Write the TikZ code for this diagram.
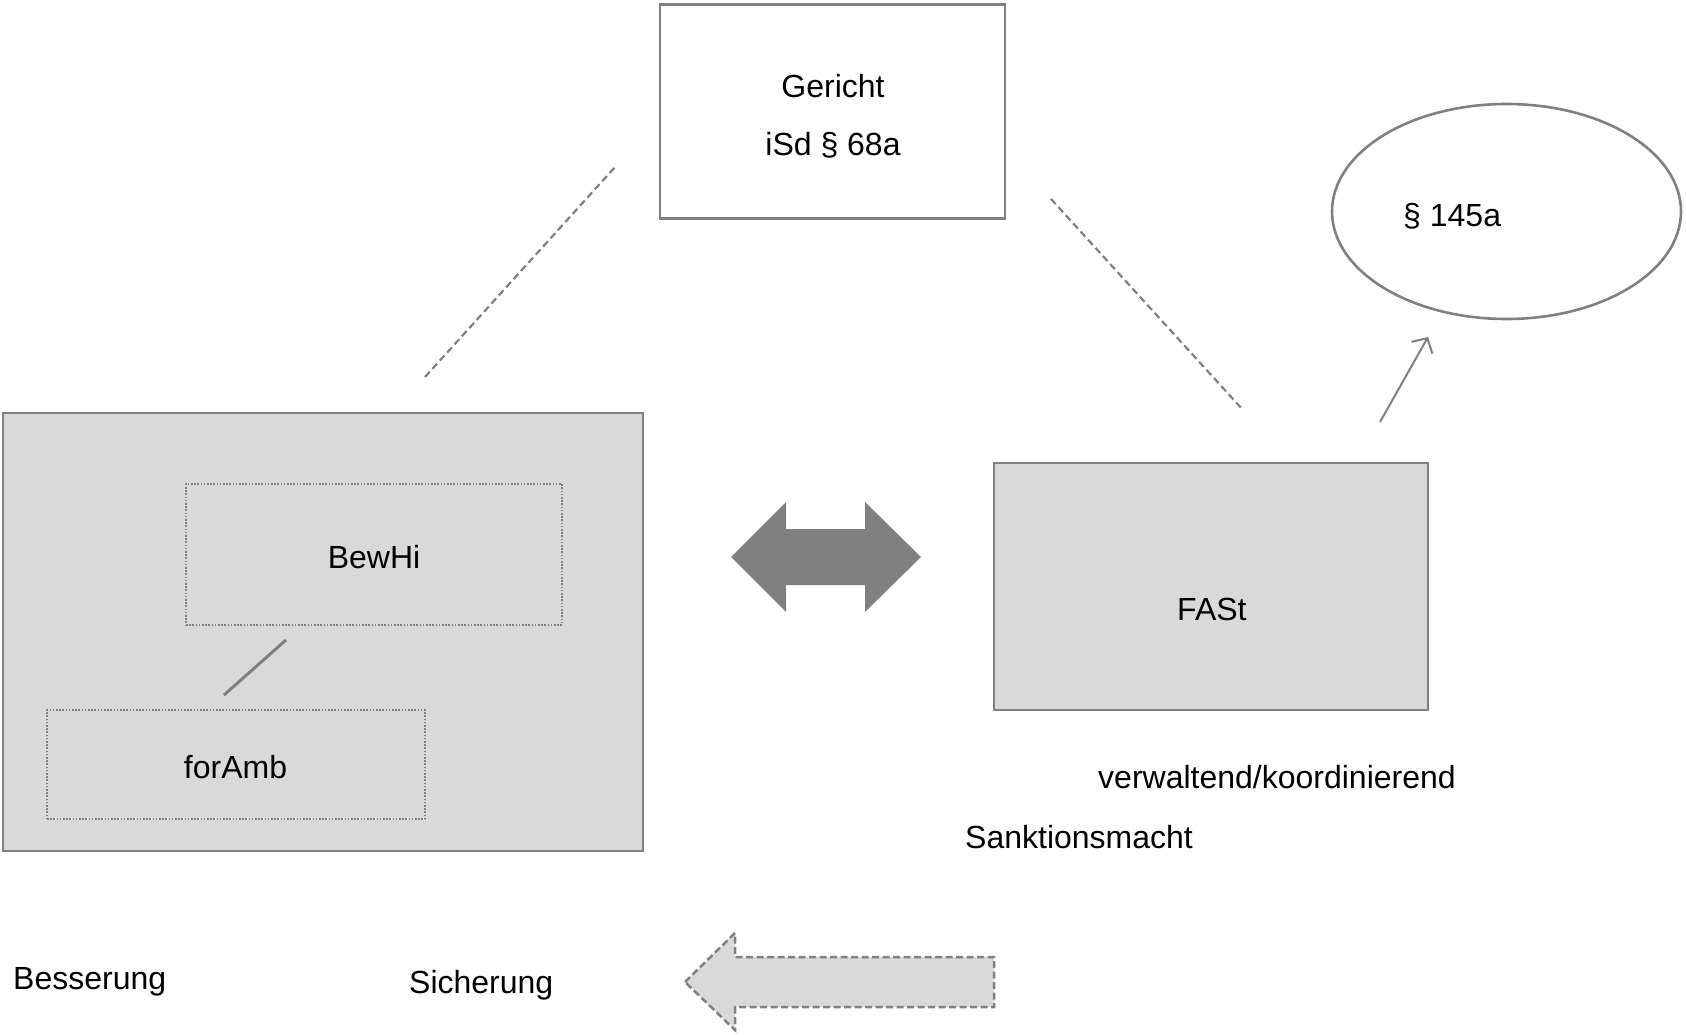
\documentclass[tikz,border=0pt]{standalone}
\usepackage{fontspec}
\setmainfont{Liberation Sans}
\usetikzlibrary{shapes.geometric,arrows.meta}
\definecolor{lg}{HTML}{808080}
\definecolor{fillg}{HTML}{D9D9D9}
\begin{document}
\begin{tikzpicture}[x=1pt,y=-1pt,
  box/.style={draw=lg,line width=2.6pt,inner sep=0pt},
  txt/.style={font=\fontsize{32}{38}\selectfont,inner sep=0pt,anchor=base west},
  ctxt/.style={font=\fontsize{32}{38}\selectfont,inner sep=0pt,anchor=base},
  dashline/.style={draw=lg,line width=2.2pt,dash pattern=on 7pt off 4pt},
  dotbox/.style={draw=lg,line width=1.6pt,dash pattern=on 1.6pt off 1.6pt,inner sep=0pt}]
\useasboundingbox (0,0) rectangle (1686,1035);

% boxes
\node[box,fill=white,minimum width=345pt,minimum height=214pt] (gericht) at (832.5,111.5) {};
\node[box,draw=lg,fill=white,ellipse,minimum width=349pt,minimum height=215pt] (p145) at (1506.5,211.5) {};
\node[box,fill=fillg,minimum width=640pt,minimum height=438pt] (left) at (323,632) {};
\node[dotbox,minimum width=376pt,minimum height=141pt] (bewhi) at (374,554.5) {};
\node[dotbox,minimum width=378pt,minimum height=109pt] (foramb) at (236,764.5) {};
\node[box,fill=fillg,minimum width=434pt,minimum height=247pt] (fast) at (1211,586.5) {};

% texts
\node[ctxt] (t1) at (833,98) {Gericht};
\node[ctxt] (t2) at (833,156) {iSd § 68a};
\node[txt] (t3) at (1403,226) {§ 145a};
\node[ctxt] (t4) at (374,568) {BewHi};
\node[ctxt] (t5) at (235.5,778) {forAmb};
\node[txt] (t6) at (1177,620) {FASt};
\node[txt] (t7) at (1098,788) {verwaltend/koordinierend};
\node[txt] (t8) at (965,848) {Sanktionsmacht};
\node[txt] (t9) at (13,989) {Besserung};
\node[txt] (t10) at (409,993) {Sicherung};

% connector end points
\coordinate (d1a) at (425,377);
\coordinate (d1b) at (616,166);
\coordinate (d2a) at (1051,199);
\coordinate (d2b) at (1243,410);
\coordinate (s1a) at (224,695);
\coordinate (s1b) at (286,640);
\coordinate (a1a) at (1380,422);
\coordinate (a1b) at (1428,337);

\draw[dashline] (d1a) -- (d1b);
\draw[dashline] (d2a) -- (d2b);
\draw[draw=lg,line width=3pt] (s1a) -- (s1b);
\draw[draw=lg,line width=2pt,-{Straight Barb[length=11pt,width=24pt]}] (a1a) -- (a1b);

% double arrow
\fill[lg] (731,557) -- (786,502) -- (786,529) -- (865,529) -- (865,502) -- (921,557)
  -- (865,612) -- (865,585) -- (786,585) -- (786,612) -- cycle;

% dashed left arrow
\filldraw[fill=fillg,draw=lg,line width=2.5pt,dash pattern=on 7pt off 3.5pt]
  (685,982) -- (735,933) -- (735,957) -- (994,957) -- (994,1007) -- (735,1007) -- (735,1030) -- cycle;
\end{tikzpicture}
\end{document}
